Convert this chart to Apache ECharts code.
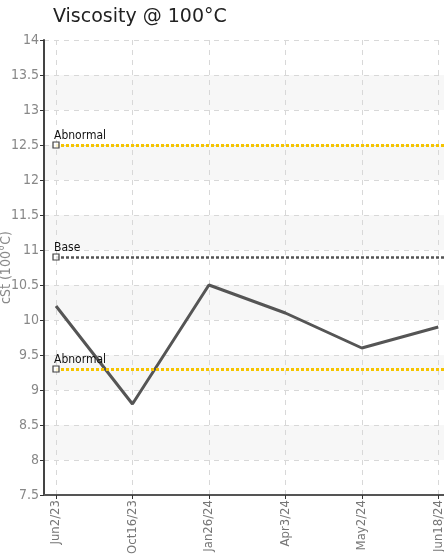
<!DOCTYPE html>
<html><head><meta charset="utf-8">
<script src="https://cdn.jsdelivr.net/npm/echarts@6/dist/echarts.min.js"></script>
<style>html,body{margin:0;padding:0;background:#fff}#c{width:444px;height:556px}</style>
</head><body><div id="c"></div>
<script>
const categories = ['Jun2/23','Oct16/23','Jan26/24','Apr3/24','May2/24','Jun18/24'];
const viscosity = [10.2, 8.8, 10.5, 10.1, 9.6, 9.9];
const thresholdNames = ['Abnormal','Base','Abnormal'];
const thresholdValues = [12.5, 10.9, 9.3];
const thresholdColors = ['#f5c400','#555555','#f5c400'];
const yTicks = [7.5, 14, 0.5];

const xMin = -0.157, xMax = 5.075;
const idx = categories.map((c,i)=>i);
const chart = echarts.init(document.getElementById('c'), null, {renderer:'canvas'});
const lab = '"DejaVu Sans Condensed", "Liberation Sans Narrow", sans-serif';
chart.setOption({
  animation:false,
  title:{text:'Viscosity @ 100°C', left:48, top:3, textStyle:{fontFamily:'DejaVu Sans, Verdana, sans-serif', fontSize:19, fontWeight:'normal', color:'#222'}},
  grid:{left:44, right:0, top:40, bottom:61, containLabel:false, outerBoundsMode:'none'},
  xAxis:{type:'value', min:xMin, max:xMax,
    axisLine:{show:true, onZero:false, lineStyle:{color:'#555', width:2}},
    axisTick:{show:true, customValues:idx, length:4, lineStyle:{color:'#333'}},
    axisLabel:{customValues:idx, rotate:90, formatter:v=>categories[Math.round(v)], color:'#777', fontFamily:lab, fontSize:13, margin:5},
    splitLine:{show:true, lineStyle:{color:'#d8d8d8', type:[5,5]}}
  },
  yAxis:{type:'value', min:yTicks[0], max:yTicks[1], interval:yTicks[2],
    name:'cSt (100°C)', nameLocation:'middle', nameGap:31, nameRotate:90, nameMoveOverlap:false,
    nameTextStyle:{color:'#888', fontFamily:lab, fontSize:14},
    axisLine:{show:true, onZero:false, lineStyle:{color:'#444', width:2}},
    axisTick:{show:true, length:4, lineStyle:{color:'#333'}},
    axisLabel:{color:'#888', fontFamily:lab, fontSize:14, margin:5},
    splitLine:{show:true, lineStyle:{color:'#d8d8d8', type:[5,5]}},
    splitArea:{show:true, areaStyle:{color:['rgba(255,255,255,0)','#f7f7f7']}}
  },
  series:[{
    type:'line', data:viscosity.map((v,i)=>[i,v]), symbol:'none',
    lineStyle:{color:'#555', width:3}, z:3,
    markLine:{silent:true, animation:false, symbol:'none',
      data:thresholdValues.map((v,i)=>[
        {coord:[0,v], name:thresholdNames[i],
         lineStyle:{color:thresholdColors[i], type:[3,2], width:i===1?2.5:3}},
        {coord:[xMax,v]}
      ]),
      label:{show:true, position:'insideStartTop', formatter:p=>p.name, distance:[-2,3], color:'#111', fontFamily:'"DejaVu Sans Condensed", sans-serif', fontSize:12}
    }
  },{
    type:'scatter', data:thresholdValues.map(v=>[0,v]), symbol:'rect', symbolSize:6, z:5,
    itemStyle:{color:'#fff', borderColor:'#111', borderWidth:1.2}, silent:true
  }]
});
</script></body></html>
